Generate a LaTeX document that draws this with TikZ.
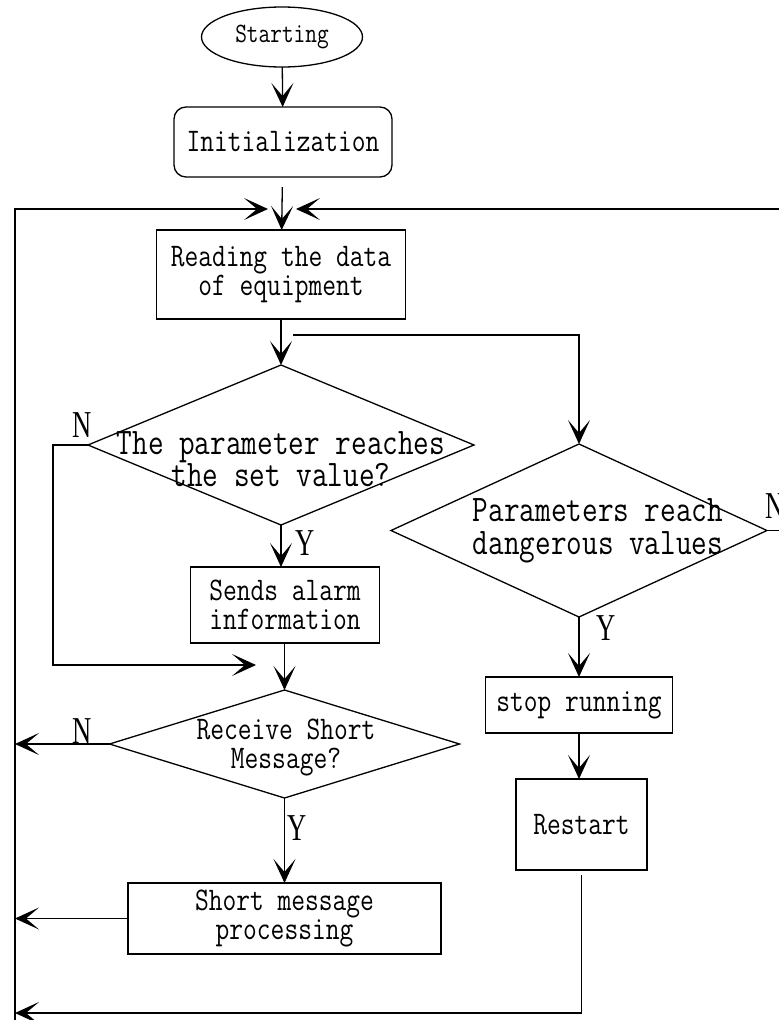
\documentclass[tikz,border=0pt]{standalone}
\usepackage{fontspec}
\setmainfont{Latin Modern Mono}[FakeStretch=0.81]
\newfontfamily\ynfont{Liberation Serif}[FakeStretch=0.7]
\usetikzlibrary{shapes.geometric,arrows.meta}

\begin{document}
\begin{tikzpicture}[x=1pt,y=-1pt,line width=1.3pt,
    >={Stealth[length=24pt,width=22pt,inset=13pt]},
    flowbox/.style={draw,rectangle,inner sep=0pt,outer sep=0pt,align=center,font=\fontsize{33}{29}\selectfont},
    decision/.style={draw,diamond,inner sep=0pt,outer sep=0pt},
    flowtext/.style={align=center,inner sep=0pt,font=\fontsize{33}{29}\selectfont},
    bigtext/.style={align=center,inner sep=0pt,font=\fontsize{37.5}{31}\selectfont},
    yn/.style={inner sep=0pt,font=\ynfont\fontsize{38}{38}\selectfont}]
    \useasboundingbox (0,0) rectangle (779,1020);

    \coordinate (lt) at (15,209);
    \coordinate (lb) at (15,1025);
    \coordinate (inl) at (268,209);
    \coordinate (inr) at (296,209);
    \coordinate (rc) at (783,530.5);
    \coordinate (fork) at (293,335);
    \coordinate (nb1) at (53,665);
    \coordinate (in1) at (256,665);
    \coordinate (bl) at (15,1013);

    \node[draw,ellipse,minimum width=161pt,minimum height=60pt,inner sep=0pt,outer sep=0pt,
      font=\fontsize{28}{28}\selectfont] (start) at (282,37) {Starting};
    \node[flowbox,rounded corners=12pt,minimum width=218pt,minimum height=70pt] (init) at (283,142) {Initialization};
    \node[flowbox,minimum width=249pt,minimum height=89pt] (read) at (281,274.5) {Reading the data\\of equipment};
    \node[decision,minimum width=386pt,minimum height=160pt] (d1) at (281,445) {};
    \node[bigtext] (d1t) at (281,459) {The parameter reaches\\the set value?};
    \node[flowbox,minimum width=189pt,minimum height=76pt] (alarm) at (285,605) {Sends alarm\\information};
    \node[decision,minimum width=350pt,minimum height=108pt] (d3) at (284.5,744) {};
    \node[flowtext] (d3t) at (286,747) {Receive Short\\Message?};
    \node[flowbox,minimum width=313pt,minimum height=71pt] (sm) at (284.5,918.5) {Short message\\processing};
    \node[decision,minimum width=376pt,minimum height=173pt] (d2) at (579,530.5) {};
    \node[bigtext,font=\fontsize{37.5}{33}\selectfont] (d2t) at (598,531) {Parameters reach\\dangerous values};
    \node[flowbox,minimum width=187pt,minimum height=56pt] (stop) at (579,705) {stop running};
    \node[flowbox,minimum width=131pt,minimum height=91pt] (restart) at (581.5,824.5) {Restart};

    \node[yn] (n1) at (82,425) {N};
    \node[yn] (y1) at (305,543) {Y};
    \node[yn,anchor=west] (n2) at (765,506) {N};
    \node[yn] (y2) at (606,628) {Y};
    \node[yn] (n3) at (82,731) {N};
    \node[yn] (y3) at (297,828) {Y};

    \draw[->] (start) -- (init);
    \draw[->,shorten <=10pt] (init) -- (read);
    \draw[->] (lb) -- (lt) -- (inl);
    \draw[->] (d2.east) -- (rc) |- (inr);
    \draw[->] (read) -- (d1);
    \draw[->] (fork) -| (d2.north);
    \draw[->] (d1.south) -- (d1.south |- alarm.north);
    \draw[->] (d1.west) -| (nb1) -- (in1);
    \draw[->] (alarm.south -| d3.north) -- (d3.north);
    \draw[->] (d3.west) -- (d3.west -| lt);
    \draw[->] (d3) -- (sm);
    \draw[->] (sm.west) -- (sm.west -| lt);
    \draw[->] (d2) -- (stop);
    \draw[->] (stop.south) -- (stop.south |- restart.north);
    \draw[->,shorten <=5pt] (restart.south) |- (bl);
  \end{tikzpicture}
\end{document}
